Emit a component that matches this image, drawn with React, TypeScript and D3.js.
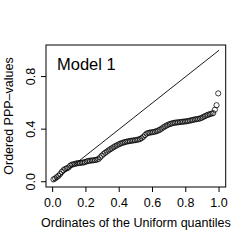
import React from 'react';
import * as d3 from 'd3';

// ordered PPP-values (100 points)
const pppValues: number[] = [
  0.018, 0.025, 0.035, 0.045, 0.058, 0.075, 0.088, 0.097, 0.102, 0.108,
  0.122, 0.130, 0.133, 0.136, 0.140, 0.142, 0.143, 0.145, 0.146, 0.150,
  0.155, 0.158, 0.160, 0.162, 0.163, 0.165, 0.168, 0.172, 0.185, 0.198,
  0.210, 0.220, 0.228, 0.238, 0.246, 0.254, 0.262, 0.270, 0.276, 0.283,
  0.289, 0.294, 0.298, 0.302, 0.305, 0.308, 0.310, 0.312, 0.314, 0.316,
  0.318, 0.321, 0.325, 0.332, 0.342, 0.355, 0.366, 0.371, 0.374, 0.376,
  0.378, 0.381, 0.385, 0.390, 0.396, 0.404, 0.413, 0.421, 0.428, 0.434,
  0.439, 0.443, 0.447, 0.449, 0.451, 0.452, 0.454, 0.455, 0.457, 0.458,
  0.460, 0.462, 0.465, 0.468, 0.471, 0.474, 0.476, 0.478, 0.481, 0.486,
  0.492, 0.499, 0.505, 0.510, 0.514, 0.518, 0.522, 0.548, 0.582, 0.672,
];

const xTicks = [0, 0.2, 0.4, 0.6, 0.8, 1.0];
const yTicks = [0, 0.4, 0.8];

const title = 'Model 1';
const xLabel = 'Ordinates of the Uniform quantiles';
const yLabel = 'Ordered PPP\u2013values';

const W = 249;
const H = 245;
const box = { left: 46, right: 225.7, top: 45, bottom: 187 };
const font = '"Liberation Sans", Arial, Helvetica, sans-serif';

const App: React.FC = () => {
  const n = pppValues.length;
  // uniform quantiles (ppoints)
  const points = pppValues.map((v, i) => ({ q: (i + 0.5) / n, v }));

  const x = d3.scaleLinear().domain([-0.04, 1.04]).range([box.left, box.right]);
  const y = d3.scaleLinear().domain([-0.04, 1.04]).range([box.bottom, box.top]);

  return (
    <svg
      width={W}
      height={H}
      style={{ position: 'absolute', left: 0, top: 0, background: '#fff' }}
      fontFamily={font}
    >
      <rect x={0} y={0} width={W} height={H} fill="#fff" />

      {/* 45 degree reference line */}
      <line x1={x(0)} y1={y(0)} x2={x(1)} y2={y(1)} stroke="#000" strokeWidth={0.9} />

      {points.map((d, i) => (
        <circle key={i} cx={x(d.q)} cy={y(d.v)} r={2.6} fill="none" stroke="#000" strokeWidth={0.75} />
      ))}

      <rect
        x={box.left}
        y={box.top}
        width={box.right - box.left}
        height={box.bottom - box.top}
        fill="none"
        stroke="#000"
        strokeWidth={1}
      />

      {/* x axis */}
      {xTicks.map(t => (
        <g key={'x' + t}>
          <line x1={x(t)} x2={x(t)} y1={box.bottom} y2={box.bottom + 5} stroke="#000" strokeWidth={1} />
          <text x={x(t)} y={207} fontSize={12.5} textAnchor="middle" fill="#000">
            {t.toFixed(1)}
          </text>
        </g>
      ))}

      {/* y axis */}
      {yTicks.map(t => (
        <g key={'y' + t}>
          <line x1={box.left - 5} x2={box.left} y1={y(t)} y2={y(t)} stroke="#000" strokeWidth={1} />
          <text
            transform={`translate(35,${y(t)}) rotate(-90)`}
            fontSize={12.5}
            textAnchor="middle"
            fill="#000"
          >
            {t.toFixed(1)}
          </text>
        </g>
      ))}

      <text x={x(0.026)} y={70} fontSize={16.5} fill="#000">{title}</text>

      <text x={(box.left + box.right) / 2} y={227} fontSize={12.5} textAnchor="middle" fill="#000">
        {xLabel}
      </text>
      <text
        transform={`translate(13,${(box.top + box.bottom) / 2}) rotate(-90)`}
        fontSize={12.5}
        textAnchor="middle"
        fill="#000"
      >
        {yLabel}
      </text>
    </svg>
  );
};

export default App;
